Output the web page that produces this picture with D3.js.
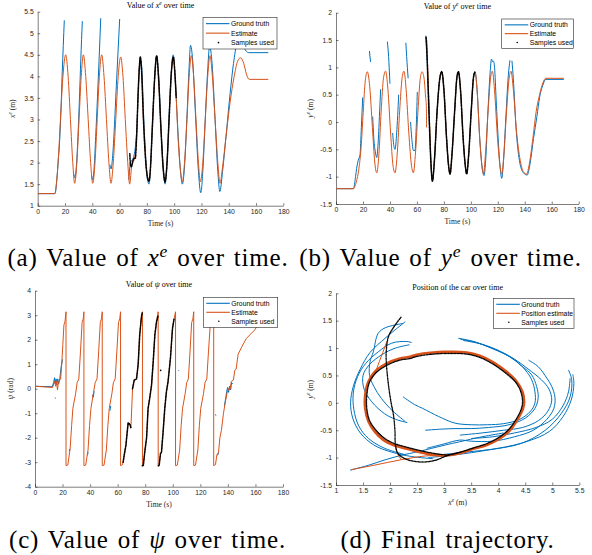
<!DOCTYPE html>
<html lang="en">
<head>
<meta charset="utf-8">
<title>Car state estimation</title>
<style>
  html, body { margin: 0; padding: 0; background: #fff; }
  svg { display: block; }
  .tick text { font-family: "Liberation Sans", Arial, sans-serif; font-size: 6.8px; fill: #262626; }
  .tick line, .domain { stroke: #262626; stroke-width: 0.6; }
  .title { font-family: "Liberation Serif", serif; font-size: 8px; fill: #000; }
  .label { font-family: "Liberation Serif", serif; font-size: 7.6px; fill: #262626; }
  .caption { font-family: "Liberation Serif", serif; font-size: 25px; fill: #000; letter-spacing: 0.8px; word-spacing: 2px; }
  .legend text { font-family: "Liberation Sans", Arial, sans-serif; font-size: 6.8px; fill: #000; }
</style>
</head>
<body>
<svg width="592" height="555"></svg>
<script src="https://d3js.org/d3.v7.min.js"></script>
<script>

// ---- tick values
const timeTicks = [0, 20, 40, 60, 80, 100, 120, 140, 160, 180];
const xeTicks = [1, 1.5, 2, 2.5, 3, 3.5, 4, 4.5, 5, 5.5];
const yeTicks = [-1.5, -1, -0.5, 0, 0.5, 1, 1.5, 2];
const psiTicks = [-4, -3, -2, -1, 0, 1, 2, 3, 4];
const posXTicks = [1, 1.5, 2, 2.5, 3, 3.5, 4, 4.5, 5, 5.5];

// ---- (a) x^e over time, [t, value], null = gap
const xeTruth = [[0,1.28],[12.7,1.28],[14,1.6],[15.2,2.1],[15.9,2.4],[16.8,3.0],[18,4.1],[19.5,5.3], null,
  [26.3,1.75],[27.3,1.65],[28.3,1.9],[29.5,2.6],[30.5,3.4],[31.6,4.4],[32.7,5.28], null,
  [39.5,1.7],[40.3,1.6],[41.4,1.9],[42.5,2.6],[43.8,3.5],[45,4.4],[46.2,5.35], null,
  [53,1.95],[53.8,1.85],[54.8,2.1],[56,2.7],[57.2,3.5],[58.6,4.4],[60.1,5.33], null,
  [66.8,1.6],[68,2.0],[70,2.1],[72.5,2.7],[74,3.9],[75,4.4],[76,4.3],[78,2.8],[80.5,1.6],[81.6,1.5],
  [83,2.1],[85,3.5],[87,4.45],[88.5,4.1],[90.5,2.7],[92.5,1.7],[93.3,1.5],[95,2.1],[97,3.6],[99.3,4.5],
  [101,3.8],[103,2.6],[104.8,1.75],[106,1.5],[107.6,1.9],[109.3,3.0],[110.8,4.1],[112,4.72],[113.5,4.4],
  [115.5,3.2],[117.8,1.8],[119.5,1.3],[121.2,1.9],[122.8,3.0],[124.5,4.1],[126,4.7],[127.8,4.3],[130,3.0],
  [132,1.8],[133.5,1.33],[135.5,1.8],[138,2.6],[141,3.6],[143.5,4.3],[146,4.75],[149,4.85],[151.5,4.65],
  [154.5,4.55],[169,4.55]];
const xeEstimate = [[0,1.28],[12.5,1.28],[14,1.6],[15.5,2.3],[17,3.2],[18.5,4.0],[20.5,4.5],[22.3,4.0],[24,3.0],
  [25.7,2.0],[27.1,1.52],[28.7,2.0],[30.3,3.0],[31.9,4.0],[33.5,4.5],[35.2,4.0],[37,3.0],[38.8,2.0],[40.3,1.52],
  [42,2.0],[43.6,3.0],[45.2,4.0],[46.9,4.5],[48.6,4.0],[50.4,3.0],[52.2,2.0],[53.7,1.52],[55.4,2.0],[57.2,3.0],
  [59,4.0],[60.8,4.45],[62.5,4.0],[64.2,3.0],[66,2.0],[67.4,1.5],[69,1.95],[71,2.1],[72.5,2.6],[73.5,3.5],
  [74.5,4.2],[75.2,4.45],[76,4.2],[77.5,3.0],[79,2.1],[80.5,1.65],[81.6,1.57],[82.5,1.8],[84,2.8],[85.8,4.0],
  [87.2,4.48],[88.5,4.0],[90.3,2.8],[92,1.85],[93.3,1.55],[94.5,1.85],[96.3,3.0],[98,4.1],[99.4,4.45],
  [100.5,4.1],[101.5,3.5],[103,2.5],[104.7,1.8],[106,1.55],[107.6,2.0],[109.4,3.0],[111,4.0],[112.6,4.48],
  [114.3,4.0],[116,3.0],[117.8,2.0],[119.2,1.55],[121,2.0],[122.8,3.0],[124.6,4.0],[126.3,4.48],[128,4.0],
  [130,3.0],[132,2.0],[133.6,1.52],[135.5,1.9],[138,2.6],[141,3.4],[144,4.0],[146.5,4.35],[148.7,4.43],
  [151,4.3],[153,4.05],[155,3.93],[169,3.93]];
const xeSamples = [[67.5,2.2],[68,1.95],[68.7,1.9],[69.5,2.0],[70.5,2.1],[71.5,2.1],[72.5,2.6],[73.5,3.5],
  [74.5,4.2],[75.2,4.45],[76,4.2],[77.5,3.0],[79,2.1],[80.5,1.65],[81.6,1.57],[82.5,1.8],[84,2.8],[85.8,4.0],
  [87.2,4.48],[88.5,4.0],[90.3,2.8],[92,1.85],[93.3,1.55],[94.5,1.85],[96.3,3.0],[98,4.1],[99.4,4.45],
  [100.5,4.1],[101.5,3.5]];

// ---- (b) y^e over time
const yeTruth = [[0,-1.22],[12.9,-1.22],[14.5,-1.0],[15.3,-0.85],[16.5,-0.7],[17.8,-0.6],[18.8,-0.1],[19.8,0.45], null,
  [24.8,1.3],[25.6,1.1], null, [27.2,0.1],[28.2,-0.35],[29.2,-0.55],[30.2,-0.65],[31.2,-0.4],[32.2,0.1],[33.1,0.6], null,
  [38.1,1.47],[39,1.2],[40,0.7], null, [42,-0.2],[43,-0.45],[43.8,-0.5],[45,-0.2],[46.5,0.5], null,
  [51.8,1.45],[52.4,1.2],[53.5,0.8], null, [55.3,0],[56.2,-0.3],[57.4,-0.52],[58.6,-0.52],[59.5,-0.1],[60.3,0.55], null,
  [66.6,1.58],[67.5,1.2],[68.5,0.5],[69.5,-0.2],[70.5,-0.8],[71.5,-1.08],[73,-0.7],[75,0.2],[77,0.8],[78.4,0.92],
  [80,0.6],[82,-0.3],[83.5,-0.8],[84.6,-0.95],[86,-0.6],[88,0.2],[89.7,0.82],[90.8,0.92],[92.3,0.6],[94.3,-0.3],
  [95.9,-0.8],[96.9,-0.95],[98.4,-0.6],[100.3,0.2],[102,0.82],[103.1,0.92],[104.6,0.6],[106.6,-0.3],[108.5,-0.85],
  [109.8,-0.98],[111,-0.7],[112.5,0.1],[114.3,0.9],[115.3,1.15],[116,1.1], null,
  [116.8,1.12],[117.6,1.0],[118.8,0.4],[120.5,-0.4],[122,-0.9],[122.9,-1.03],[124,-0.8],[125.8,0.0],[127.8,0.85],[129,1.13], null,
  [130.5,1.12],[131.5,0.8],[133.5,-0.1],[136,-0.7],[139,-0.93],[141.8,-0.97],[144,-0.75],[146.5,-0.3],[149,0.1],
  [151,0.45],[153.5,0.68],[155.5,0.78],[169,0.78]];
const yeEstimate = [[0,-1.22],[12.9,-1.22],[15,-1.1],[17,-0.85],[18.5,-0.5],[20,0.1],[21.5,0.7],[23.2,0.92],[25,0.65],
  [27,-0.1],[28.8,-0.75],[30.2,-0.93],[31.8,-0.6],[33.5,0.2],[35.2,0.8],[36.8,0.93],[38.5,0.6],[40.5,-0.2],[42.3,-0.8],
  [43.8,-0.93],[45.5,-0.55],[47.2,0.2],[49,0.8],[50.4,0.93],[52,0.6],[54,-0.2],[56,-0.8],[57.4,-0.93],[59,-0.55],
  [60.8,0.2],[62.5,0.8],[63.8,0.92],[65.3,0.8],[66.5,0.45],[67,0.3],[67.2,-0.1], null,
  [67.3,1.5],[69,0.3],[70.5,-0.8],[71.5,-1.08],[73,-0.7],[75,0.2],[77,0.8],[78.4,0.92],[80,0.6],[82,-0.3],[83.5,-0.8],
  [84.6,-0.95],[86,-0.6],[88,0.2],[89.7,0.82],[90.8,0.92],[92.3,0.6],[94.3,-0.3],[95.9,-0.8],[96.9,-0.95],[98.4,-0.6],
  [100.3,0.2],[102,0.82],[103.1,0.92],[104.6,0.6],[106.6,-0.3],[108.2,-0.8],[109.3,-0.95],[110.8,-0.6],[112.8,0.2],
  [114.7,0.82],[116,0.93],[117.5,0.6],[119.8,-0.3],[121.6,-0.8],[122.9,-0.95],[124.5,-0.6],[126.5,0.2],[128.5,0.82],
  [129.8,0.93],[131.5,0.6],[134,-0.2],[137,-0.75],[139.5,-0.93],[141.4,-0.95],[143.5,-0.75],[146,-0.3],[148.5,0.2],
  [151,0.5],[153.5,0.72],[155.5,0.8],[169,0.8]];
const yeSamples = [[66.8,1.55],[67.5,1.2],[68.5,0.5],[69.5,-0.2],[70.5,-0.8],[71.5,-1.08],[73,-0.7],[75,0.2],[77,0.8],
  [78.4,0.92],[80,0.6],[82,-0.3],[83.5,-0.8],[84.6,-0.95],[86,-0.6],[88,0.2],[89.7,0.82],[90.8,0.92],[92.3,0.6],
  [94.3,-0.3],[95.9,-0.8],[96.9,-0.95],[98.4,-0.6],[100.3,0.2],[102,0.82],[103.1,0.92]];

// ---- (c) psi over time
const psiTruth = [[0,0.1],[12.5,0.08],[13.5,0.25],[14.2,0.45],[14.6,0.2],[15.3,0.4],[15.8,0.15],[16.5,0.4],[17.2,0.2],
  [18,0.4],[19,0.9],[20,1.2], null, [14.6,-0.36],[14.9,-0.4], null, [24.8,-2.55],[25.4,-2.45], null,
  [38,-2.72],[38.6,-2.6], null, [41.6,-0.25],[42.3,-0.35],[42.9,-0.1], null, [54.3,-0.9],[55,-0.7], null,
  [104,0.72],[104.4,0.75], null, [131,-1.05],[131.3,-1.1], null, [132.5,-2.72],[133.3,-2.6], null,
  [137.5,-0.7],[138.5,-0.35],[139.2,-0.1],[139.8,0.05],[140.5,-0.15],[141.2,0.1],[142,-0.05],[142.7,0.25],[143.5,0.2]];
const psiEstimate = [[0,0.1],[12.8,0.05],[13.6,0.2],[14.3,0.3],[15,0.1],[15.6,0.3],[16.3,-0.05],[17,0.25],[17.8,0.35],
  [18.6,0.4],[19.4,1.0],[20.2,1.8],[21,2.6],[21.8,2.75],[22.5,3.14],
  [22.5,-3.14],[23.8,-3.12],[25.5,-2.45],[26.6,-1.5],[27.5,-0.8],[29.5,-0.2],[30.6,0.25],[31.8,0.4],[33,1.5],[34.2,2.7],[35,2.85],[35.5,3.14],
  [35.5,-3.14],[36.8,-3.12],[38.5,-2.5],[39.6,-1.5],[40.6,-0.8],[42.5,-0.15],[43.7,0.25],[45,0.4],[46.2,1.5],[47.4,2.7],[48.2,2.85],[48.8,3.14],
  [48.8,-3.14],[50.1,-3.12],[51.8,-2.5],[52.9,-1.5],[53.9,-0.8],[55.8,-0.2],[56.9,0.25],[58.2,0.4],[59.4,1.5],[60.6,2.7],[61.5,2.85],[62.1,3.14],
  [62.1,-3.14],[63.5,-3.1],[64.5,-2.8],[66,-2.3],[67.6,-1.4],[68.9,-1.45],[69.6,-1.6],[70.8,0.0],[72,0.35],[73.7,0.4],[74.9,1.0],[76,2.2],[77.3,2.95],[78,3.14],
  [78,-3.14],[78.6,-3.14],[79.7,-2.57],[81,-2.0],[82.1,-0.8],[83.4,-0.33],[84.6,0.15],[85.8,1.1],[87,2.2],[88.2,2.73],[89.4,3.14],
  [89.4,-3.14],[90.1,-3.14],[91.1,-2.64],[91.8,-2.6],[93,-1.75],[94.2,-0.8],[95.4,-0.12],[96.6,0.3],[98.3,1.24],[99.8,2.46],[101,2.87],[102,3.14],
  [102,-3.14],[103.3,-3.12],[105,-2.5],[106.1,-1.5],[107.1,-0.8],[109,-0.2],[110.1,0.25],[111.3,0.4],[112.5,1.5],[113.7,2.7],[114.6,2.85],[115.2,3.14],
  [115.2,-3.14],[116.5,-3.12],[118.2,-2.5],[119.3,-1.5],[120.3,-0.8],[122.3,-0.2],[123.4,0.25],[124.7,0.4],[125.9,1.5],[127.3,2.7],[128.8,2.9],[129.7,3.14],
  [129.7,-3.14],[131,-3.1],[132,-2.7],[133.2,-2.6],[134.2,-2.0],[135.3,-1.7],[136.8,-1.0],[138.3,-0.5],[139.5,-0.15],[140.6,0.0],
  [141.5,-0.05],[142.5,0.3],[144,0.35],[145,0.75],[146,0.8],[147.4,1.4],[150,1.7],[153.4,2.05],[159.5,2.4],[164,2.8],[169,3.1]];
const psiSamples = [[64,-3.0],[64.5,-2.8],[66,-2.3],[67.6,-1.4],[68.9,-1.45],[69.6,-1.6], null,
  [70.8,0.0],[72,0.35],[73.7,0.4],[74.9,1.0],[76,2.2],[77.3,2.95],[78,3.14], null,
  [78,-3.14],[78.6,-3.14],[79.7,-2.57],[81,-2.0],[82.1,-0.8],[83.4,-0.33],[84.6,0.15],[85.8,1.1],[87,2.2],[88.2,2.73],[89.4,3.0], null,
  [89.6,-3.14],[90.1,-3.14],[91.1,-2.64],[91.8,-2.6],[93,-1.75],[94.2,-0.8],[95.4,-0.12],[96.6,0.3],[98.3,1.24],[99.8,2.46],[101,2.87], null,
  [91.2,0.75],[91.5,0.75]];

// ---- (d) trajectory, [x^e, y^e]
const posTruth = [[1.26,-1.23],[1.6,-1.14],[1.91,-1.04],[2.2,-0.96],[2.52,-0.89],[3.02,-0.77],[3.29,-0.71],[3.7,-0.62],[4.1,-0.55], null,
  [2.28,1.48],[2.09,1.33],[1.91,1.18],[1.63,0.92],[1.45,0.62],[1.32,0.3],[1.27,0.0],[1.31,-0.28],[1.45,-0.55],[1.7,-0.77],[2.03,-0.9],[2.4,-0.98],[2.8,-1.02], null,
  [2.4,1.1],[2.31,1.12],[2.03,1.09],[1.78,0.93],[1.55,0.72],[1.4,0.48],[1.32,0.18],[1.33,-0.12],[1.42,-0.42],[1.6,-0.65],[1.9,-0.83],[2.3,-0.95], null,
  [2.24,1.45],[1.91,1.37],[1.78,1.27],[1.69,0.93],[1.63,0.75],[1.62,0.5],[1.7,0.3],[1.84,0.08],[2.05,-0.15],[2.28,-0.34], null,
  [2.36,1.06],[2.1,1.0],[1.85,0.88],[1.62,0.7],[1.5,0.5],[1.52,0.25],[1.66,0.02],[1.9,-0.2],[2.1,-0.3],[2.32,-0.36], null,
  [3.26,1.18],[3.55,1.12],[3.82,1.02],[4.1,0.9],[4.31,0.78],[4.5,0.6],[4.62,0.42],[4.68,0.2],[4.68,0.0],[4.6,-0.15],[4.4,-0.3],
  [4.1,-0.38],[3.8,-0.4],[3.5,-0.4],[3.2,-0.37],[2.9,-0.25],[2.6,-0.1],[2.45,-0.03],[2.24,0.11], null,
  [3.3,1.16],[3.6,1.1],[3.88,1.0],[4.2,0.85],[4.45,0.66],[4.62,0.51],[4.71,0.3],[4.74,0.1],[4.68,-0.1],[4.5,-0.28],[4.2,-0.4],
  [3.82,-0.45],[3.5,-0.47],[3.2,-0.47],[2.95,-0.48],[2.65,-0.5], null,
  [3.35,1.14],[3.7,1.07],[4.0,0.96],[4.3,0.8],[4.55,0.62],[4.8,0.42],[4.94,0.25],[4.99,0.05],[4.92,-0.15],[4.75,-0.32],[4.45,-0.45],
  [4.1,-0.5],[3.7,-0.55],[3.29,-0.59], null,
  [4.56,0.78],[4.74,0.66],[4.9,0.45],[4.99,0.3],[5.05,0.1],[5.03,-0.1],[4.9,-0.3],[4.65,-0.5],[4.3,-0.62],[3.9,-0.7],[3.5,-0.7],
  [3.29,-0.68],[3.0,-0.75],[2.68,-0.83], null,
  [5.3,0.6],[5.36,0.42],[5.33,0.11],[5.17,-0.19],[4.87,-0.5],[4.43,-0.74],[3.82,-0.86],[3.2,-0.95],[2.7,-1.0], null,
  [5.38,0.52],[5.4,0.35],[5.35,0.05],[5.2,-0.25],[4.95,-0.52],[4.55,-0.7],[4.0,-0.83],[3.4,-0.9],[2.9,-0.95], null,
  [5.33,0.45],[5.3,0.2],[5.2,-0.05],[5.0,-0.3],[4.7,-0.45],[4.3,-0.55],[3.9,-0.62],[3.5,-0.65]];
const posEstimateLoop = [[2.37,0.84],[2.49,0.88],[2.8,0.92],[3.0,0.93],[3.42,0.92],[3.66,0.86],[3.91,0.74],[4.15,0.57],
  [4.34,0.39],[4.45,0.2],[4.48,0.02],[4.46,-0.1],[4.37,-0.28],[4.22,-0.5],[4.03,-0.65],[3.79,-0.77],[3.54,-0.84],
  [3.29,-0.92],[3.05,-0.96],[2.8,-0.95],[2.55,-0.9],[2.31,-0.84],[2.06,-0.77],[1.88,-0.68],[1.72,-0.53],[1.6,-0.34],
  [1.54,-0.1],[1.54,0.14],[1.6,0.39],[1.72,0.57],[1.94,0.72],[2.18,0.81]];
const posEstimate = [[1.28,-1.22],[1.7,-1.14],[2.2,-1.04],[2.65,-0.97],[3.05,-0.96], null,
  [2.09,-0.77],[2.15,-0.95],[2.21,-1.04], null,
  [1.62,0.4],[1.69,0.48],[1.8,0.75],[1.94,1.12]];
const posSamples = [[2.2,1.56],[2.08,1.4],[1.97,1.21],[1.93,0.95],[1.93,0.75],[1.97,0.33],[2.02,0.0],[2.06,-0.2],
  [2.09,-0.5],[2.1,-0.77],[2.15,-0.93],[2.3,-1.03],[2.58,-1.08],[2.83,-1.05],[3.07,-0.96],[3.3,-0.9],[3.55,-0.82],
  [3.8,-0.74],[4.03,-0.62],[4.2,-0.48],[4.35,-0.27],[4.43,-0.1],[4.45,0.02],[4.42,0.2],[4.32,0.38],[4.13,0.55],
  [3.9,0.71],[3.66,0.83],[3.42,0.89],[3.0,0.9],[2.8,0.89],[2.5,0.85],[2.37,0.81],[2.18,0.78],[1.95,0.69],[1.74,0.55],
  [1.62,0.38],[1.57,0.14],[1.57,-0.1],[1.62,-0.32],[1.74,-0.5],[1.9,-0.65],[2.07,-0.74],[2.31,-0.81],[2.55,-0.87],
  [2.8,-0.92],[3.07,-0.95],[3.3,-0.9]];

const BLUE = "#0072BD", ORANGE = "#D95319";
const svg = d3.select("svg");

// text with italic / superscript parts
function rich(sel, parts, fs) {
  let back = 0;
  parts.forEach(([s, k]) => {
    const t = sel.append("tspan").text(s);
    if (k === "i" || k === "s") t.attr("font-style", "italic");
    if (k === "s") {
      t.attr("font-size", fs * 0.7).attr("dy", -fs * 0.38);
      back = fs * 0.38;
    } else if (back) {
      t.attr("dy", back);
      back = 0;
    }
  });
}

function panel(p, id) {
  const g = svg.append("g");
  const x = d3.scaleLinear().domain(p.xDomain).range([p.left, p.right]);
  const y = d3.scaleLinear().domain(p.yDomain).range([p.bottom, p.top]);

  g.append("clipPath").attr("id", id).append("rect")
    .attr("x", p.left).attr("y", p.top).attr("width", p.right - p.left).attr("height", p.bottom - p.top);

  g.append("g").attr("transform", `translate(0,${p.bottom})`)
    .call(d3.axisBottom(x).tickValues(p.xTicks).tickFormat(d => String(d)).tickSizeInner(-2.5).tickSizeOuter(0).tickPadding(3.2));
  g.append("g").attr("transform", `translate(${p.left},0)`)
    .call(d3.axisLeft(y).tickValues(p.yTicks).tickFormat(d => String(d)).tickSizeInner(-2.5).tickSizeOuter(0).tickPadding(4));

  const plot = g.append("g").attr("clip-path", `url(#${id})`);
  p.series.forEach(s => {
    const line = d3.line().defined(d => d !== null)
      .x(d => x(d[0])).y(d => y(d[1])).curve(s.curve || p.curve);
    const path = plot.append("path").datum(s.data).attr("d", line)
      .attr("fill", "none").attr("stroke", s.color).attr("stroke-width", s.width)
      .attr("stroke-linejoin", "round");
    if (s.dots) path.attr("stroke-dasharray", "0.01 1.4").attr("stroke-linecap", "round");
  });

  const cx = (p.left + p.right) / 2, cy = (p.top + p.bottom) / 2;
  rich(g.append("text").attr("class", "title").attr("x", cx).attr("y", p.top - 3.6)
    .attr("text-anchor", "middle"), p.title, 8);
  rich(g.append("text").attr("class", "label").attr("x", cx).attr("y", p.bottom + 20)
    .attr("text-anchor", "middle"), p.xLabel, 7.6);
  rich(g.append("text").attr("class", "label")
    .attr("transform", `translate(${p.yLabelX},${cy}) rotate(-90)`)
    .attr("text-anchor", "middle"), p.yLabel, 7.6);

  // legend
  const L = p.legend;
  const lg = g.append("g").attr("class", "legend");
  lg.append("rect").attr("x", L.x).attr("y", L.y).attr("width", L.w).attr("height", L.h)
    .attr("fill", "#fff").attr("stroke", "#262626").attr("stroke-width", 0.6);
  p.legendItems.forEach((it, i) => {
    const ry = L.y + L.h * (0.2 + 0.3 * i);
    if (it.dot) {
      lg.append("circle").attr("cx", L.x + 15.5).attr("cy", ry).attr("r", 0.8).attr("fill", "#000");
    } else {
      lg.append("line").attr("x1", L.x + 3).attr("x2", L.x + 26.5).attr("y1", ry).attr("y2", ry)
        .attr("stroke", it.color).attr("stroke-width", 1.1);
    }
    lg.append("text").attr("x", L.x + 28).attr("y", ry + 2.4).text(it.name);
  });
}

const timeLabel = [["Time (s)", "n"]];
const items = (est) => [
  { name: "Ground truth", color: BLUE },
  { name: est, color: ORANGE },
  { name: "Samples used", dot: true }
];

panel({
  left: 37.7, right: 283.3, top: 11.7, bottom: 205.7,
  xDomain: [0, 180], yDomain: [1, 5.5], xTicks: timeTicks, yTicks: xeTicks,
  curve: d3.curveMonotoneX,
  series: [
    { data: xeTruth, color: BLUE, width: 1 },
    { data: xeEstimate, color: ORANGE, width: 1 },
    { data: xeSamples, color: "#000", width: 1.7, dots: true }
  ],
  title: [["Value of ", "n"], ["x", "i"], ["e", "s"], [" over time", "n"]],
  xLabel: timeLabel, yLabel: [["x", "i"], ["e", "s"], [" (m)", "n"]], yLabelX: 14.5,
  legend: { x: 203, y: 17.3, w: 74, h: 31.7 }, legendItems: items("Estimate")
}, "clipA");

panel({
  left: 336, right: 578.7, top: 12.7, bottom: 204,
  xDomain: [0, 180], yDomain: [-1.5, 2], xTicks: timeTicks, yTicks: yeTicks,
  curve: d3.curveMonotoneX,
  series: [
    { data: yeTruth, color: BLUE, width: 1 },
    { data: yeEstimate, color: ORANGE, width: 1 },
    { data: yeSamples, color: "#000", width: 1.7, dots: true }
  ],
  title: [["Value of ", "n"], ["y", "i"], ["e", "s"], [" over time", "n"]],
  xLabel: timeLabel, yLabel: [["y", "i"], ["e", "s"], [" (m)", "n"]], yLabelX: 312.5,
  legend: { x: 501.7, y: 19, w: 71.6, h: 29.3 }, legendItems: items("Estimate")
}, "clipB");

panel({
  left: 35, right: 283, top: 290.7, bottom: 486.7,
  xDomain: [0, 180], yDomain: [-4, 4], xTicks: timeTicks, yTicks: psiTicks,
  curve: d3.curveLinear,
  series: [
    { data: psiTruth, color: BLUE, width: 1 },
    { data: psiEstimate, color: ORANGE, width: 1 },
    { data: psiSamples, color: "#000", width: 1.7, dots: true }
  ],
  title: [["Value of ", "n"], ["ψ", "i"], [" over time", "n"]],
  xLabel: timeLabel, yLabel: [["ψ", "i"], [" (rad)", "n"]], yLabelX: 12.5,
  legend: { x: 203.3, y: 297.3, w: 74.4, h: 30 }, legendItems: items("Estimate")
}, "clipC");

panel({
  left: 336, right: 579.3, top: 293.3, bottom: 485,
  xDomain: [1, 5.5], yDomain: [-1.5, 2], xTicks: posXTicks, yTicks: yeTicks,
  curve: d3.curveCatmullRom,
  series: [
    { data: posTruth, color: BLUE, width: 1 },
    { data: posEstimateLoop, color: ORANGE, width: 2.6, curve: d3.curveCatmullRomClosed },
    { data: posEstimate, color: ORANGE, width: 1 },
    { data: posSamples, color: "#000", width: 1.5, dots: true }
  ],
  title: [["Position of the car over time", "n"]],
  xLabel: [["x", "i"], ["e", "s"], [" (m)", "n"]], yLabel: [["y", "i"], ["e", "s"], [" (m)", "n"]], yLabelX: 312.5,
  legend: { x: 493.3, y: 298.3, w: 80.7, h: 30 }, legendItems: items("Position estimate")
}, "clipD");

// sub-figure captions, centred under each panel
const captions = [
  { x: 148, y: 266, parts: [["(a) Value of ", "n"], ["x", "i"], ["e", "s"], [" over time.", "n"]] },
  { x: 440.5, y: 266, parts: [["(b) Value of ", "n"], ["y", "i"], ["e", "s"], [" over time.", "n"]] },
  { x: 147.5, y: 548, parts: [["(c) Value of ", "n"], ["ψ", "i"], [" over time.", "n"]] },
  { x: 447.5, y: 548, parts: [["(d) Final trajectory.", "n"]] }
];
captions.forEach(c => {
  rich(svg.append("text").attr("class", "caption").attr("x", c.x).attr("y", c.y)
    .attr("text-anchor", "middle"), c.parts, 25);
});

</script>
</body>
</html>
